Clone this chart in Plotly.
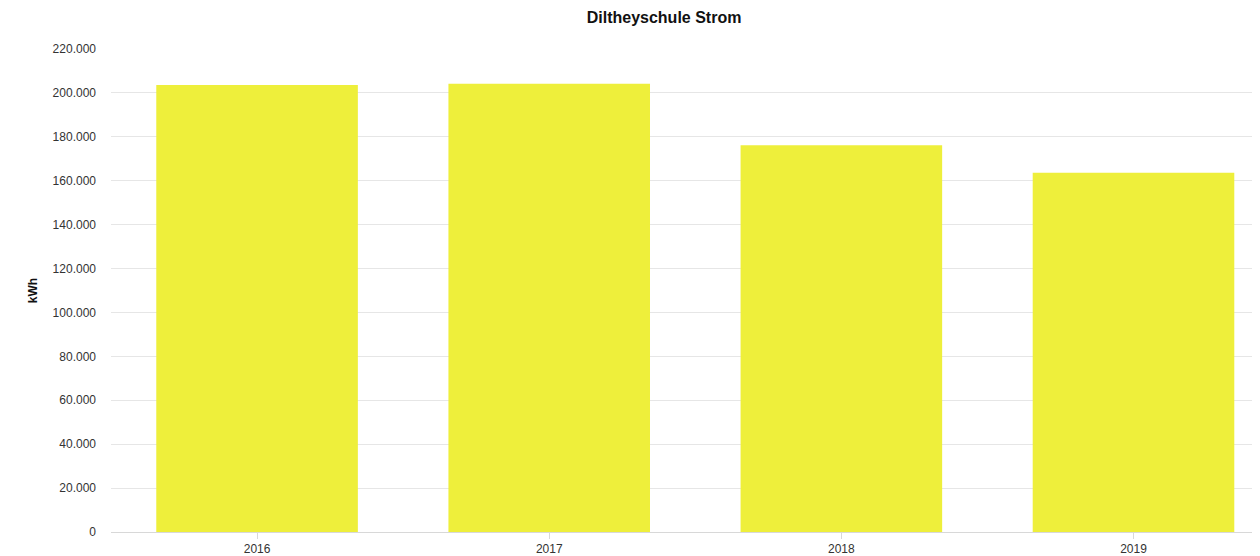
import plotly.graph_objects as go

years = ["2016", "2017", "2018", "2019"]
kwh = [203600, 204200, 176200, 163600]
y_ticks = list(range(0, 220001, 20000))

W, H = 1252, 548  # page body has an 8px margin

fig = go.Figure()
fig.add_trace(go.Bar(
    x=years, y=kwh,
    marker=dict(color="#EEEF3B", line=dict(width=0)),
    width=0.69,
))

fig.update_layout(
    width=W, height=H,
    margin=dict(l=103, r=0, t=41, b=24, autoexpand=False),
    paper_bgcolor="white", plot_bgcolor="white",
    separators=",.",
    showlegend=False,
    title=dict(text="<b>Diltheyschule Strom</b>", x=0.524, xanchor="center",
               y=1 - 9.5 / H, yanchor="middle", yref="container",
               font=dict(family="Liberation Sans, Arial", size=16, color="#111")),
    font=dict(family="Liberation Sans, Arial", size=12, color="#333"),
)
fig.update_xaxes(
    type="category", range=[-0.5, 3.433],
    showgrid=False, showline=True, linecolor="#d8d8d8", linewidth=1,
    ticks="outside", ticklen=6, tickcolor="#d8d8d8",
    tickfont=dict(size=12, color="#333"),
)
fig.update_yaxes(
    range=[0, 220000], tickvals=y_ticks, tickformat=",d",
    showgrid=True, gridcolor="#e6e6e6", gridwidth=1,
    zeroline=False, showline=False, ticks="", ticklabelstandoff=14,
    tickfont=dict(size=12, color="#333"),
    title=dict(text="<b>kWh</b>", font=dict(size=12, color="#111"), standoff=12),
)

fig.write_html("out.html")
